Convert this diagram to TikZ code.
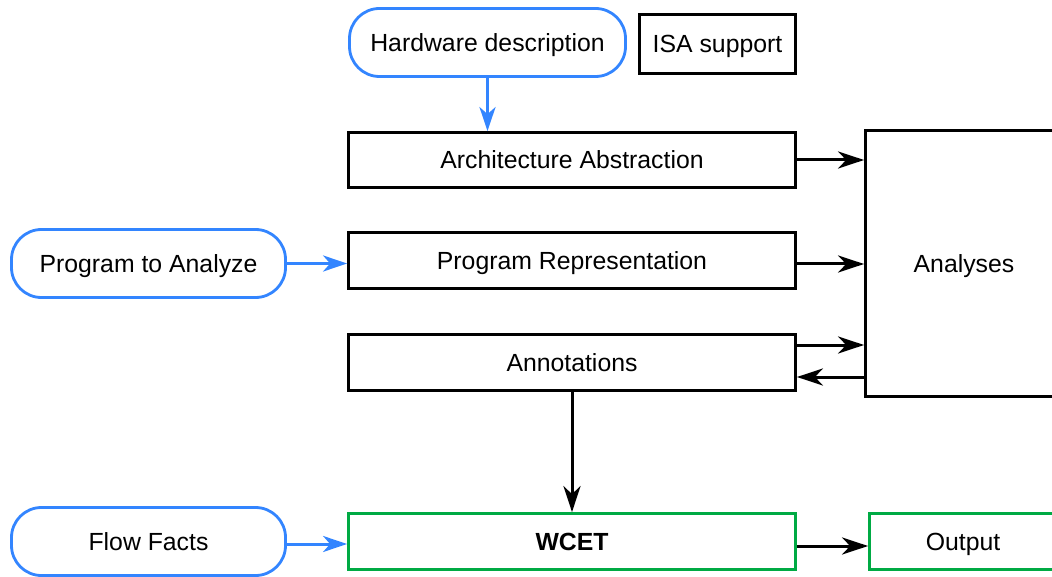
\documentclass[tikz,border=0pt]{standalone}
\usepackage{fontspec}
\setmainfont{Liberation Sans}
\usetikzlibrary{arrows.meta}
\definecolor{bl}{RGB}{51,133,255}
\definecolor{gr}{RGB}{0,170,68}
\begin{document}
\begin{tikzpicture}[x=1pt,y=-1pt,
  font=\fontsize{24.8}{29}\selectfont,
  every node/.style={inner sep=0pt, line width=2.8pt, text height=22pt, text depth=4.2pt},
  blk/.style={draw=black, minimum height=56pt},
  inp/.style={draw=bl, rounded corners=30pt, minimum height=68pt},
  outb/.style={draw=gr, minimum height=56pt},
  arr/.style={line width=3pt, -{Stealth[length=26pt,width=17pt,inset=8pt]}},
  barr/.style={arr, draw=bl, -{Stealth[length=24pt,width=16pt,inset=7pt,fill=bl]}}]
\useasboundingbox (0,0) rectangle (1052,577);
\clip (0,0) rectangle (1052,577);
\node[inp, minimum width=276pt] (hw) at (487.5,42.5) {Hardware description};
\node[blk, minimum width=156pt, minimum height=59pt] (isa) at (717.5,44) {ISA support};
\node[blk, minimum width=447pt, minimum height=55pt] (arch) at (572,160) {Architecture Abstraction};
\node[inp, minimum width=274pt] (prog) at (148.5,263.5) {Program to Analyze};
\node[blk, minimum width=447pt] (rep) at (572,260.5) {Program Representation};
\node[blk, minimum width=447pt] (ann) at (572,362.5) {Annotations};
\node[blk, minimum width=197pt, minimum height=266pt] (an) at (964,263.5) {Analyses};
\node[outb, minimum width=447pt] (wcet) at (572,541.5) {\bfseries WCET};
\node[outb, minimum width=187pt] (out) at (963,541.5) {Output};
\node[inp, minimum width=274pt] (flow) at (148.5,541.5) {Flow Facts};
\coordinate (hwx) at (487.5,0);
\draw[barr] (hw.south -| hwx) -- (arch.north -| hwx);
\draw[barr] (prog.east) -- (rep.west |- prog.east);
\draw[arr] (arch.east) -- (an.west |- arch.east);
\coordinate (y1) at (0,264); \coordinate (y2) at (0,345); \coordinate (y3) at (0,377);
\coordinate (y4) at (0,544); \coordinate (y5) at (0,546);
\draw[arr] (rep.east |- y1) -- (an.west |- y1);
\draw[arr] (ann.east |- y2) -- (an.west |- y2);
\draw[arr] (an.west |- y3) -- (ann.east |- y3);
\draw[arr] (ann.south) -- (wcet.north);
\draw[barr] (flow.east |- y4) -- (wcet.west |- y4);
\draw[arr] (wcet.east |- y5) -- (out.west |- y5);
\end{tikzpicture}
\end{document}
